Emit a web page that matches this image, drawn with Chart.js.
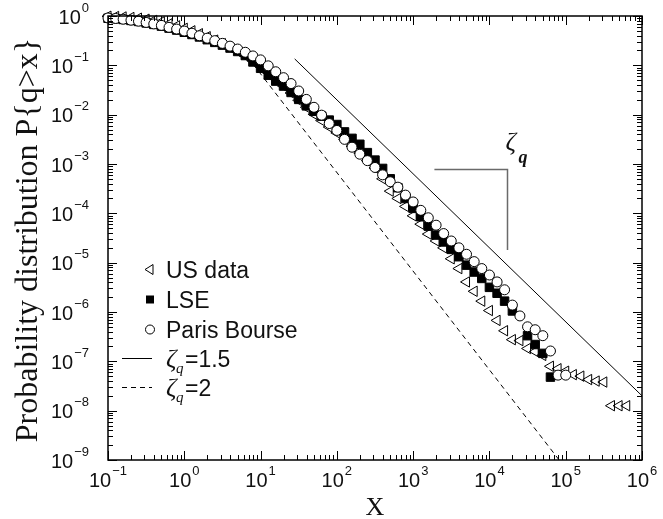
<!DOCTYPE html>
<html>
<head>
<meta charset="utf-8">
<script src="https://cdn.jsdelivr.net/npm/chart.js@4/dist/chart.umd.min.js"></script>
<style>
  html, body { margin: 0; padding: 0; background: #fff; }
  canvas { display: block; }
</style>
</head>
<body>
<canvas id="c" width="663" height="519"></canvas>
<script>
// Complementary cumulative distribution of trade volumes, P{q > x}
const usX = [0.1, 0.126, 0.158, 0.2, 0.251, 0.316, 0.398, 0.501, 0.631, 0.794,
  1, 1.26, 1.58, 2, 2.51, 3.16, 3.98, 5.01, 6.31, 7.94,
  10, 12.6, 15.8, 20, 25.1, 31.6, 39.8, 50.1, 63.1, 79.4,
  100, 126, 158, 200, 251, 316, 398, 501, 631, 794,
  1000, 1260, 1580, 2000, 2510, 3160, 3980, 5010, 6310, 7940,
  10000, 12600, 15800, 20000, 25100, 31600, 39800, 50100, 63100, 79400,
  100000, 126000, 158000, 200000, 251000, 316000, 398000, 501000, 631000];
const usY = [0.989, 0.977, 0.955, 0.933, 0.902, 0.861, 0.813, 0.759, 0.692, 0.631,
  0.562, 0.501, 0.437, 0.380, 0.324, 0.275, 0.229, 0.191, 0.155, 0.123,
  0.0955, 0.0708, 0.0525, 0.0380, 0.0275, 0.0195, 0.0141, 0.0102, 0.00759, 0.00562,
  0.00427, 0.00316, 0.00229, 0.00166, 0.00117, 8.32e-4, 5.01e-4, 2.82e-4, 2.00e-4, 1.38e-4,
  8.91e-5, 6.03e-5, 3.80e-5, 2.75e-5, 2.00e-5, 1.20e-5, 7.59e-6, 4.07e-6, 2.63e-6, 1.66e-6,
  1.07e-6, 6.76e-7, 4.17e-7, 2.75e-7, 2.63e-7, 1.82e-7, 1.58e-7, 1.32e-7, 7.94e-8, 7.08e-8,
  6.31e-8, 5.37e-8, 5.01e-8, 4.27e-8, 3.98e-8, 3.80e-8, 1.26e-8, 1.26e-8, 1.26e-8];

const lseX = [0.1, 0.126, 0.158, 0.2, 0.251, 0.316, 0.398, 0.501, 0.631, 0.794,
  1, 1.26, 1.58, 2, 2.51, 3.16, 3.98, 5.01, 6.31, 7.94,
  10, 12.6, 15.8, 20, 25.1, 31.6, 39.8, 50.1, 63.1, 79.4,
  100, 126, 158, 200, 251, 316, 398, 501, 631, 794,
  1000, 1260, 1580, 2000, 2510, 3160, 3980, 5010, 6310, 7940,
  10000, 12600, 15800, 20000,
  31600, 39800, 50100, 63100];
const lseY = [0.902, 0.881, 0.851, 0.813, 0.776, 0.724, 0.676, 0.624, 0.569, 0.519,
  0.468, 0.422, 0.376, 0.331, 0.292, 0.257, 0.224, 0.191, 0.158, 0.117,
  0.0871, 0.0631, 0.0479, 0.0380, 0.0282, 0.0204, 0.0151, 0.0117, 0.00933, 0.00776,
  0.00631, 0.00447, 0.00331, 0.00251, 0.00170, 0.00120, 8.13e-4, 5.01e-4, 3.31e-4, 2.00e-4,
  1.26e-4, 8.51e-5, 5.50e-5, 3.63e-5, 2.63e-5, 1.86e-5, 1.32e-5, 8.91e-6, 6.46e-6, 4.79e-6,
  3.16e-6, 2.40e-6, 1.66e-6, 1.05e-6,
  3.31e-7, 2.19e-7, 1.45e-7, 4.79e-8];

const parisX = [0.1, 0.126, 0.158, 0.2, 0.251, 0.316, 0.398, 0.501, 0.631, 0.794,
  1, 1.26, 1.58, 2, 2.51, 3.16, 3.98, 5.01, 6.31, 7.94,
  10, 12.6, 15.8, 20, 25.1, 31.6, 39.8, 50.1, 63.1, 79.4,
  100, 126, 158, 200, 251, 316, 398, 501, 631, 794,
  1000, 1260, 1580, 2000, 2510, 3160, 3980, 5010, 6310, 7940,
  10000, 12600, 15800, 20000, 25100, 31600, 39800, 50100, 63100, 79400,
  100000];
const parisY = [0.912, 0.891, 0.861, 0.822, 0.785, 0.741, 0.692, 0.646, 0.589, 0.543,
  0.495, 0.447, 0.398, 0.355, 0.316, 0.279, 0.245, 0.214, 0.184, 0.155,
  0.129, 0.0977, 0.0741, 0.0562, 0.0427, 0.0302, 0.0204, 0.0141, 0.00977, 0.00661,
  0.00479, 0.00316, 0.00219, 0.00158, 0.00117, 8.51e-4, 6.03e-4, 4.37e-4, 3.39e-4, 2.34e-4,
  1.70e-4, 1.15e-4, 8.13e-5, 5.75e-5, 3.89e-5, 2.75e-5, 2.00e-5, 1.48e-5, 1.05e-5, 7.59e-6,
  5.62e-6, 4.07e-6, 2.82e-6, 1.38e-6, 8.32e-7, 5.01e-7, 4.37e-7, 3.31e-7, 1.62e-7, 5.25e-8,
  5.25e-8];

// Power-law guide lines P ~ x^(-zeta)
const zetaSolid = 1.5;
const solidX = [28, 1e6];
const solidEndY = 2e-8;
const zetaDashed = 2;
const dashedX = [8, 8.2e4];
const dashedEndY = 1e-9;

// Decade exponents for the axis labels
const xTickExps = [-1, 0, 1, 2, 3, 4, 5, 6];
const yTickExps = [0, -1, -2, -3, -4, -5, -6, -7, -8, -9];

// Slope bracket drawn beside the zeta_q label (data coordinates)
const bracketX = [1.9e3, 1.7e4];
const bracketY = [7.9e-4, 1.8e-5];

const pts = (xs, ys) => xs.map((x, i) => ({ x: x, y: ys[i] }));
const powerLine = (xs, endY, zeta) => {
  const xEnd = xs[xs.length - 1];
  return xs.map(x => ({ x: x, y: endY * Math.pow(xEnd / x, zeta) }));
};

const SANS = "'Liberation Sans', Arial, sans-serif";
const SERIF = "'Liberation Serif', 'Times New Roman', serif";

function powerLabel(ctx, e, x, baseY, align) {
  ctx.font = '20px ' + SANS;
  const w1 = ctx.measureText('10').width;
  const exp = String(e).replace('-', '\u2212');
  ctx.font = '13px ' + SANS;
  const w2 = ctx.measureText(exp).width;
  const total = w1 + 1 + w2;
  let left = align === 'right' ? x - total : x - total / 2;
  ctx.textAlign = 'left';
  ctx.textBaseline = 'alphabetic';
  ctx.font = '20px ' + SANS;
  ctx.fillText('10', left, baseY);
  ctx.font = '13px ' + SANS;
  ctx.fillText(exp, left + w1 + 1, baseY - 12);
}

function zetaText(ctx, x, baseY, rest) {
  ctx.textAlign = 'left';
  ctx.textBaseline = 'alphabetic';
  ctx.font = 'italic 26px ' + SERIF;
  ctx.fillText('\u03B6', x, baseY);
  ctx.font = 'italic 15px ' + SERIF;
  ctx.fillText('q', x + 10, baseY + 6);
  ctx.font = '23px ' + SANS;
  ctx.fillText(rest, x + 19, baseY);
}

const decorations = {
  id: 'decorations',
  afterDraw(chart) {
    const ctx = chart.ctx;
    const a = chart.chartArea;
    const xs = chart.scales.x, ys = chart.scales.y;
    ctx.save();
    ctx.fillStyle = '#111';
    ctx.strokeStyle = '#000';

    // frame
    ctx.lineWidth = 1.5;
    ctx.strokeRect(a.left, a.top, a.right - a.left, a.bottom - a.top);

    // inward ticks on all four sides
    ctx.lineWidth = 1;
    ctx.beginPath();
    for (let i = 0; i < xTickExps.length; i++) {
      const e = xTickExps[i];
      for (let m = 1; m <= 9; m++) {
        const v = m * Math.pow(10, e);
        if (v > xs.max * 1.0001) break;
        const px = Math.round(xs.getPixelForValue(v)) + 0.5;
        const len = m === 1 ? 9 : 5;
        ctx.moveTo(px, a.bottom); ctx.lineTo(px, a.bottom - len);
        ctx.moveTo(px, a.top); ctx.lineTo(px, a.top + len);
      }
    }
    for (let i = 0; i < yTickExps.length; i++) {
      const e = yTickExps[i];
      for (let m = 1; m <= 9; m++) {
        const v = m * Math.pow(10, e);
        if (v > ys.max * 1.0001) break;
        const py = Math.round(ys.getPixelForValue(v)) + 0.5;
        const len = m === 1 ? 9 : 5;
        ctx.moveTo(a.left, py); ctx.lineTo(a.left + len, py);
        ctx.moveTo(a.right, py); ctx.lineTo(a.right - len, py);
      }
    }
    ctx.stroke();

    // tick labels
    xTickExps.forEach(e => {
      powerLabel(ctx, e, xs.getPixelForValue(Math.pow(10, e)), a.bottom + 27, 'center');
    });
    yTickExps.forEach(e => {
      powerLabel(ctx, e, a.left - 19, ys.getPixelForValue(Math.pow(10, e)) + 7.5, 'right');
    });

    // axis titles
    ctx.font = '26px ' + SERIF;
    ctx.textAlign = 'center';
    ctx.textBaseline = 'alphabetic';
    ctx.fillText('X', (a.left + a.right) / 2, 515);

    ctx.save();
    ctx.translate(37, (a.top + a.bottom) / 2 + 2);
    ctx.rotate(-Math.PI / 2);
    ctx.font = '32px ' + SERIF;
    ctx.textAlign = 'center';
    ctx.fillText('Probability distribution P{q>x}', 0, 0);
    ctx.restore();

    // slope bracket and its zeta_q label
    const bx0 = xs.getPixelForValue(bracketX[0]);
    const bx1 = Math.round(xs.getPixelForValue(bracketX[1])) + 0.5;
    const by0 = Math.round(ys.getPixelForValue(bracketY[0])) + 0.5;
    const by1 = ys.getPixelForValue(bracketY[1]);
    ctx.strokeStyle = '#6a6a6a';
    ctx.lineWidth = 1.5;
    ctx.beginPath();
    ctx.moveTo(bx0, by0); ctx.lineTo(bx1, by0); ctx.lineTo(bx1, by1);
    ctx.stroke();
    ctx.fillStyle = '#111';
    ctx.textAlign = 'left';
    ctx.font = 'italic 26px ' + SERIF;
    ctx.fillText('\u03B6', bx1 - 2, by0 - 20);
    ctx.font = 'italic bold 18px ' + SERIF;
    ctx.fillText('q', bx1 + 11, by0 - 7);

    // legend
    const lx = 150, tx = 166;
    ctx.strokeStyle = '#000';
    ctx.lineWidth = 1;
    // triangle (left pointing, open)
    ctx.beginPath();
    ctx.moveTo(lx - 5, 269.5); ctx.lineTo(lx + 3, 264.5); ctx.lineTo(lx + 3, 274.5); ctx.closePath();
    ctx.stroke();
    // filled square
    ctx.fillStyle = '#000';
    ctx.fillRect(lx - 4, 295.5, 8, 8);
    // open circle
    ctx.beginPath();
    ctx.arc(lx, 329.5, 4.5, 0, Math.PI * 2);
    ctx.stroke();
    // guide line samples
    ctx.beginPath();
    ctx.moveTo(122, 358.5); ctx.lineTo(152, 358.5);
    ctx.stroke();
    ctx.setLineDash([5, 4]);
    ctx.beginPath();
    ctx.moveTo(122, 387.5); ctx.lineTo(152, 387.5);
    ctx.stroke();
    ctx.setLineDash([]);

    ctx.fillStyle = '#111';
    ctx.font = '23px ' + SANS;
    ctx.textAlign = 'left';
    ctx.fillText('US data', tx, 277.5);
    ctx.fillText('LSE', tx, 307.5);
    ctx.fillText('Paris Bourse', tx, 337.5);
    zetaText(ctx, tx, 367, '=' + zetaSolid);
    zetaText(ctx, tx, 396, '=' + zetaDashed);

    ctx.restore();
  }
};

new Chart(document.getElementById('c'), {
  type: 'scatter',
  data: {
    datasets: [
      {
        label: 'Paris Bourse',
        data: pts(parisX, parisY),
        pointStyle: 'circle', pointRadius: 5, pointBorderWidth: 1,
        pointBorderColor: '#000', pointBackgroundColor: '#fff',
        showLine: false, order: 0, clip: false
      },
      {
        label: 'LSE',
        data: pts(lseX, lseY),
        pointStyle: 'rect', pointRadius: 6, pointBorderWidth: 1,
        pointBorderColor: '#000', pointBackgroundColor: '#000',
        showLine: false, order: 1, clip: false
      },
      {
        label: 'US data',
        data: pts(usX, usY),
        pointStyle: 'triangle', pointRotation: -90, pointRadius: 6, pointBorderWidth: 1,
        pointBorderColor: '#000', pointBackgroundColor: 'rgba(0,0,0,0)',
        showLine: false, order: 2, clip: false
      },
      {
        label: '\u03B6q=1.5',
        data: powerLine(solidX, solidEndY, zetaSolid),
        showLine: true, borderColor: '#000', borderWidth: 1, pointRadius: 0,
        order: 3
      },
      {
        label: '\u03B6q=2',
        data: powerLine(dashedX, dashedEndY, zetaDashed),
        showLine: true, borderColor: '#000', borderWidth: 1, borderDash: [5, 4], pointRadius: 0,
        order: 4
      }
    ]
  },
  options: {
    responsive: false,
    animation: false,
    devicePixelRatio: 1,
    events: [],
    layout: { padding: { left: 108, right: 21, top: 16, bottom: 59 } },
    plugins: { legend: { display: false }, tooltip: { enabled: false } },
    scales: {
      x: { type: 'logarithmic', min: 0.1, max: 1e6, display: false },
      y: { type: 'logarithmic', min: 1e-9, max: 1, display: false }
    }
  },
  plugins: [decorations]
});
</script>
</body>
</html>
